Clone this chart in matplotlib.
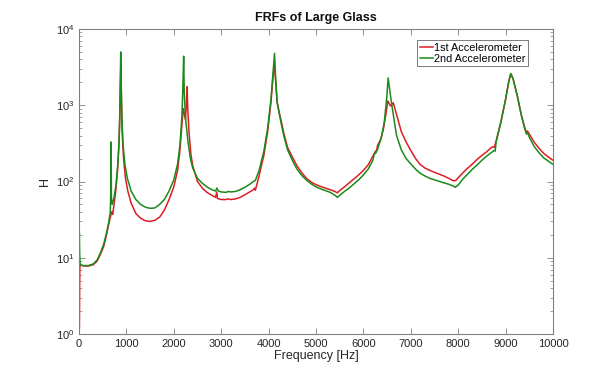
import matplotlib
matplotlib.use("Agg")
import matplotlib.pyplot as plt
from matplotlib.ticker import LogLocator, NullLocator, MultipleLocator

plt.rcParams['font.family'] = ['Liberation Sans', 'DejaVu Sans']
plt.rcParams['mathtext.fontset'] = 'custom'
plt.rcParams['mathtext.rm'] = 'Liberation Sans'
plt.rcParams['mathtext.it'] = 'Liberation Sans:italic'

title = "FRFs of Large Glass"
xlabel = "Frequency [Hz]"
ylabel = "H"
labels = ["1st Accelerometer", "2nd Accelerometer"]

freq1 = [8, 12, 16, 22, 40, 100, 200, 300, 380, 450, 520, 580, 630, 670, 690, 700, 712, 730, 770, 810,
         840, 860, 872, 884, 895, 910, 940, 980, 1030, 1100, 1200, 1300, 1400, 1500, 1600, 1700, 1800,
         1900, 2000, 2080, 2130, 2170, 2200, 2220, 2245, 2265, 2280, 2295, 2320, 2360, 2400, 2500, 2600,
         2700, 2800, 2880, 2905, 2920, 3000, 3100, 3150, 3200, 3300, 3400, 3500, 3600, 3680, 3700, 3720,
         3760, 3800, 3900, 3980, 4050, 4100, 4125, 4145, 4180, 4220, 4260, 4320, 4400, 4500, 4600, 4700,
         4800, 4900, 5000, 5100, 5200, 5300, 5400, 5450, 5500, 5600, 5700, 5800, 5900, 6000, 6100, 6200,
         6240, 6280, 6300, 6360, 6420, 6480, 6515, 6570, 6630, 6700, 6800, 6900, 7000, 7100, 7200, 7300,
         7400, 7500, 7600, 7700, 7800, 7900, 7950, 8000, 8100, 8200, 8300, 8400, 8500, 8600, 8700, 8730,
         8760, 8800, 8900, 9000, 9070, 9110, 9160, 9250, 9330, 9400, 9440, 9460, 9500, 9600, 9700, 9800,
         9900, 10000]
h1 = [1.2, 3.5, 6.5, 8.2, 8.0, 7.8, 7.8, 8.1, 9.0, 11, 14, 20, 28, 36, 40, 38, 37, 45, 70, 130,
      280, 700, 1800, 3500, 1200, 450, 200, 110, 75, 52, 38, 33, 30.5, 30, 31, 34, 42,
      58, 85, 140, 260, 550, 900, 800, 650, 1000, 1750, 900, 450, 230, 160, 100, 82,
      72, 66, 62, 73, 60, 58, 58, 59, 58, 59, 62, 67, 73, 78, 82, 77,
      95, 120, 220, 450, 1100, 2600, 3500, 2200, 1100, 830, 650, 430, 280, 210, 160, 130,
      110, 98, 91, 86, 82, 78, 74, 71, 76, 85, 96, 108, 122, 140, 165, 215,
      240, 260, 300, 350, 480, 800, 1140, 980, 1080, 750, 450, 330, 255, 200, 167, 150,
      140, 132, 125, 118, 110, 102, 103, 112, 130, 150, 170, 195, 220, 245, 280, 285,
      280, 340, 600, 1200, 2100, 2600, 2200, 1300, 750, 520, 430, 460, 420, 330, 275, 235,
      210, 190]

freq2 = [8, 14, 22, 40, 100, 200, 300, 380, 450, 520, 580, 630, 660, 672, 678, 684, 700, 740, 780, 820,
         850, 865, 880, 890, 905, 930, 970, 1020, 1100, 1200, 1300, 1400, 1500, 1600, 1700, 1800, 1900,
         2000, 2080, 2130, 2170, 2190, 2208, 2220, 2245, 2270, 2300, 2350, 2400, 2500, 2600, 2700, 2800,
         2880, 2910, 2940, 3000, 3100, 3150, 3200, 3300, 3400, 3500, 3600, 3680, 3720, 3800, 3900, 3980,
         4050, 4100, 4125, 4145, 4180, 4220, 4260, 4320, 4400, 4500, 4600, 4700, 4800, 4900, 5000, 5100,
         5200, 5300, 5400, 5450, 5500, 5600, 5700, 5800, 5900, 6000, 6100, 6200, 6230, 6260, 6300, 6380,
         6440, 6490, 6522, 6560, 6600, 6700, 6800, 6900, 7000, 7100, 7200, 7300, 7400, 7500, 7600, 7700,
         7800, 7900, 7940, 8000, 8100, 8200, 8300, 8400, 8500, 8600, 8700, 8760, 8780, 8800, 8900, 9000,
         9070, 9110, 9160, 9250, 9330, 9400, 9440, 9460, 9500, 9600, 9700, 9800, 9900, 10000]
h2 = [21, 11, 8.5, 8.0, 7.9, 7.9, 8.3, 9.3, 11.5, 15, 21, 30, 40, 80, 330, 60, 50, 62, 90, 170,
      400, 1000, 5000, 2000, 700, 300, 165, 110, 75, 58, 50, 46, 44.5, 45, 50, 58, 75,
      105, 170, 300, 700, 1600, 4400, 1500, 700, 500, 330, 200, 150, 110, 95, 85, 78,
      75, 82, 75, 73, 72, 74, 73, 74, 78, 84, 92, 100, 103, 140, 250, 500,
      1200, 3000, 4800, 2500, 1100, 800, 600, 400, 260, 190, 145, 120, 104, 93, 85, 80,
      76, 72, 66, 62, 66, 74, 82, 93, 105, 122, 145, 190, 230, 235, 265, 380,
      600, 1200, 2280, 1500, 1000, 400, 260, 200, 170, 145, 128, 118, 110, 105, 100, 96,
      92, 87, 84, 90, 108, 125, 145, 165, 190, 215, 240, 255, 250, 330, 600, 1200,
      2100, 2600, 2200, 1300, 750, 500, 420, 440, 380, 290, 240, 205, 185, 168]

fig = plt.figure(figsize=(6.10, 3.76), dpi=100)
ax = fig.add_axes([79/610, 1-334/376, (553-79)/610, (334-29)/376])

ax.semilogy(freq1, h1, color='#dc1e24', lw=1.1, label=labels[0])
ax.semilogy(freq2, h2, color='#1a8a1a', lw=1.1, label=labels[1])

ax.set_xlim(0, 10000)
ax.set_ylim(1, 1e4)
ax.xaxis.set_major_locator(MultipleLocator(1000))
ax.xaxis.set_minor_locator(NullLocator())
ax.yaxis.set_major_locator(LogLocator(base=10, numticks=10))
ax.yaxis.set_minor_locator(LogLocator(base=10, subs=range(2, 10), numticks=10))

gray = '#808080'
for s in ax.spines.values():
    s.set_color(gray)
    s.set_linewidth(0.8)
ax.tick_params(which='both', direction='in', top=True, right=True, color=gray,
               labelcolor='#262626', labelsize=8)
ax.tick_params(which='major', length=4, width=0.6)
ax.tick_params(which='minor', length=2, width=0.5)

ax.set_title(title, fontsize=9, fontweight='bold', pad=6, color='#111111')
ax.set_xlabel(xlabel, fontsize=9, labelpad=1, color='#262626')
ax.set_ylabel(ylabel, fontsize=9, labelpad=3, color='#262626')

leg = ax.legend(loc='upper right', bbox_to_anchor=(0.955, 0.975), fontsize=7.8,
                frameon=True, fancybox=False, handlelength=1.2, handletextpad=0.15,
                borderpad=0.25, labelspacing=0.1, borderaxespad=0.3)
leg.get_frame().set_edgecolor('#404040')
leg.get_frame().set_linewidth(0.6)

fig.savefig("out.png", dpi=100)
